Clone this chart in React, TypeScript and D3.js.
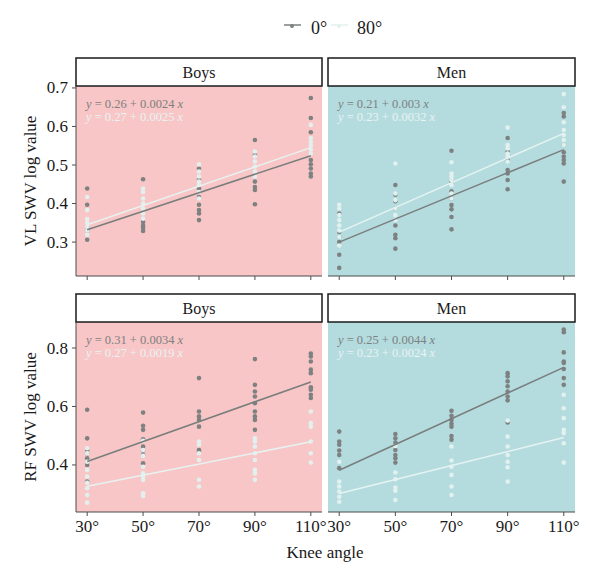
import React from 'react';
import * as d3 from 'd3';

// knee angles on the x axis
const angles = [30, 50, 70, 90, 110];
const angleTicks = ['30°', '50°', '70°', '90°', '110°'];
const hipAngles = ['0°', '80°'];

// SWV log values, one inner list per knee angle
const boysVL0 = [
  [0.439, 0.397, 0.339, 0.33, 0.306],
  [0.463, 0.352, 0.343, 0.337, 0.329],
  [0.49, 0.461, 0.439, 0.417, 0.397, 0.383, 0.374, 0.357],
  [0.565, 0.526, 0.457, 0.443, 0.435, 0.398],
  [0.674, 0.622, 0.585, 0.513, 0.502, 0.491, 0.478, 0.47],
];
const boysVL80 = [
  [0.417, 0.383, 0.36, 0.35, 0.34, 0.33, 0.319],
  [0.439, 0.43, 0.413, 0.4, 0.387, 0.374, 0.361],
  [0.502, 0.483, 0.47, 0.457, 0.448, 0.43, 0.413],
  [0.535, 0.522, 0.509, 0.496, 0.483, 0.47],
  [0.604, 0.57, 0.56, 0.55, 0.54, 0.53],
];
const menVL0 = [
  [0.374, 0.326, 0.313, 0.3, 0.267, 0.233],
  [0.448, 0.423, 0.406, 0.387, 0.343, 0.319, 0.31, 0.283],
  [0.537, 0.457, 0.432, 0.413, 0.396, 0.385, 0.365, 0.333],
  [0.57, 0.535, 0.513, 0.487, 0.478, 0.461, 0.437],
  [0.635, 0.626, 0.552, 0.533, 0.522, 0.513, 0.504, 0.457],
];
const menVL80 = [
  [0.397, 0.387, 0.37, 0.357, 0.343, 0.33, 0.313, 0.291],
  [0.504, 0.426, 0.409, 0.387, 0.37, 0.357],
  [0.507, 0.478, 0.47, 0.461, 0.448, 0.426, 0.413],
  [0.597, 0.552, 0.543, 0.53, 0.522, 0.509],
  [0.684, 0.65, 0.611, 0.591, 0.578, 0.565, 0.552],
];
const boysRF0 = [
  [0.589, 0.491, 0.451, 0.44, 0.423, 0.411, 0.4, 0.343],
  [0.579, 0.534, 0.52, 0.488, 0.463, 0.449, 0.434, 0.406],
  [0.697, 0.583, 0.566, 0.554, 0.531, 0.451, 0.446],
  [0.762, 0.674, 0.651, 0.634, 0.611, 0.583, 0.566, 0.554, 0.52],
  [0.781, 0.771, 0.754, 0.726, 0.714, 0.666, 0.657, 0.64, 0.629],
];
const boysRF80 = [
  [0.457, 0.44, 0.411, 0.383, 0.36, 0.339, 0.32, 0.297, 0.271],
  [0.483, 0.451, 0.431, 0.394, 0.371, 0.36, 0.349, 0.303, 0.294],
  [0.48, 0.469, 0.44, 0.417, 0.349, 0.326],
  [0.491, 0.48, 0.463, 0.44, 0.417, 0.383, 0.371, 0.349],
  [0.583, 0.543, 0.531, 0.48, 0.44, 0.408],
];
const menRF0 = [
  [0.514, 0.48, 0.469, 0.449, 0.434, 0.389],
  [0.506, 0.491, 0.477, 0.451, 0.434, 0.423, 0.408],
  [0.585, 0.568, 0.554, 0.541, 0.531, 0.499, 0.486],
  [0.714, 0.703, 0.686, 0.669, 0.651, 0.634, 0.621, 0.545],
  [0.863, 0.854, 0.785, 0.754, 0.749, 0.728, 0.697, 0.674],
];
const menRF80 = [
  [0.411, 0.343, 0.326, 0.309, 0.291, 0.274],
  [0.465, 0.374, 0.351, 0.323, 0.312, 0.28],
  [0.463, 0.415, 0.394, 0.366, 0.326, 0.297],
  [0.552, 0.497, 0.463, 0.434, 0.411, 0.392, 0.343],
  [0.64, 0.594, 0.56, 0.52, 0.509, 0.474, 0.408],
];

// fitted lines: [intercept, slope]
const boysVLFit = [[0.26, 0.0024], [0.27, 0.0025]];
const menVLFit = [[0.21, 0.003], [0.23, 0.0032]];
const boysRFFit = [[0.31, 0.0034], [0.27, 0.0019]];
const menRFFit = [[0.25, 0.0044], [0.23, 0.0024]];

const vlTicks = [0.3, 0.4, 0.5, 0.6, 0.7];
const rfTicks = [0.4, 0.6, 0.8];

const FONT = '"Liberation Serif", "DejaVu Serif", serif';
const darkCol = '#7e8181';
const lightCol = '#e2f0ef';
const bgCol = { Boys: '#f8c6c6', Men: '#b4dcde' };

const cols = [
  { name: 'Boys', x0: 76, x1: 322 },
  { name: 'Men', x0: 328, x1: 575 },
];
const rows = [
  { title: 'VL SWV log value', stripTop: 58, y0: 86, y1: 276, domain: [0.212, 0.705], ticks: vlTicks, xLabels: false,
    data: [[boysVL0, boysVL80, boysVLFit], [menVL0, menVL80, menVLFit]] },
  { title: 'RF SWV log value', stripTop: 294, y0: 322, y1: 512, domain: [0.239, 0.889], ticks: rfTicks, xLabels: true,
    data: [[boysRF0, boysRF80, boysRFFit], [menRF0, menRF80, menRFFit]] },
];

function Panel({ col, row, ci }: any) {
  const x = d3.scaleLinear().domain([26, 114]).range([col.x0, col.x1]);
  const y = d3.scaleLinear().domain(row.domain).range([row.y1, row.y0]);
  const [d0, d80, fit] = row.data[ci];
  const series = [d0, d80];
  const colors = [darkCol, lightCol];
  const ends = [angles[0], angles[angles.length - 1]];

  return (
    <g>
      <rect x={col.x0} y={row.y0} width={col.x1 - col.x0} height={row.y1 - row.y0} fill={(bgCol as any)[col.name]} />
      {series.map((s: number[][], si: number) => (
        <g key={si} fill={colors[si]}>
          {s.map((vals, ai) => vals.map((v, vi) => (
            <circle key={ai + '-' + vi} cx={x(angles[ai])} cy={y(v)} r={2.3} />
          )))}
        </g>
      ))}
      {fit.map((k: number[], si: number) => {
        const d = d3.line<number>().x(a => x(a)).y(a => y(k[0] + k[1] * a))(ends);
        return <path key={si} d={d || ''} stroke={si === 0 ? '#7a7d7d' : '#e6f3f2'} strokeWidth={1.5} fill="none" />;
      })}
      {fit.map((k: number[], si: number) => (
        <text key={'eq' + si} x={col.x0 + 10} y={row.y0 + 22 + si * 13} fontFamily={FONT} fontSize={12.5}
          fill={si === 0 ? '#7d8080' : '#e8f3f3'}>
          <tspan fontStyle="italic">y</tspan>{` = ${k[0]} + ${k[1]} `}<tspan fontStyle="italic">x</tspan>
        </text>
      ))}
      {/* strip */}
      <rect x={col.x0} y={row.stripTop} width={col.x1 - col.x0} height={row.y0 - row.stripTop} fill="#fff" stroke="#1a1a1a" strokeWidth={1.5} />
      <text x={(col.x0 + col.x1) / 2} y={row.stripTop + 20} textAnchor="middle" fontFamily={FONT} fontSize={16} fill="#1a1a1a">{col.name}</text>
      {/* axes */}
      <line x1={col.x0} x2={col.x1} y1={row.y1} y2={row.y1} stroke="#4d4d4d" strokeWidth={1} />
      {angles.map((a, i) => (
        <g key={a}>
          <line x1={x(a)} x2={x(a)} y1={row.y1} y2={row.y1 + 4} stroke="#4d4d4d" strokeWidth={1} />
          {row.xLabels && (
            <text x={x(a)} y={row.y1 + 20} textAnchor="middle" fontFamily={FONT} fontSize={17} fill="#1a1a1a">{angleTicks[i]}</text>
          )}
        </g>
      ))}
      {ci === 0 && (
        <g>
          <line x1={col.x0} x2={col.x0} y1={row.y0} y2={row.y1} stroke="#4d4d4d" strokeWidth={1} />
          {row.ticks.map((t: number) => (
            <g key={t}>
              <line x1={col.x0 - 4} x2={col.x0} y1={y(t)} y2={y(t)} stroke="#4d4d4d" strokeWidth={1} />
              <text x={col.x0 - 8} y={y(t) + 5.5} textAnchor="end" fontFamily={FONT} fontSize={17} fill="#1a1a1a">{d3.format('.1f')(t)}</text>
            </g>
          ))}
        </g>
      )}
    </g>
  );
}

export default function App() {
  return (
    <svg width={600} height={586} style={{ position: 'absolute', left: 0, top: 0, background: '#fff' }}>
      {/* legend */}
      <g>
        <line x1={284} x2={301} y1={25} y2={25} stroke={darkCol} strokeWidth={1.5} />
        <circle cx={292} cy={26} r={2} fill={darkCol} />
        <text x={311} y={34} fontFamily={FONT} fontSize={18} fill="#1a1a1a">{hipAngles[0]}</text>
        <line x1={331} x2={348} y1={25} y2={25} stroke={lightCol} strokeWidth={1.5} />
        <circle cx={339} cy={26} r={2} fill={lightCol} />
        <text x={357} y={34} fontFamily={FONT} fontSize={18} fill="#1a1a1a">{hipAngles[1]}</text>
      </g>
      {rows.map((row, ri) => (
        <g key={ri}>
          {cols.map((col, ci) => <Panel key={ci} col={col} row={row} ci={ci} />)}
          <text transform={`translate(36,${(row.y0 + row.y1) / 2}) rotate(-90)`} textAnchor="middle" fontFamily={FONT} fontSize={17} fill="#1a1a1a">{row.title}</text>
        </g>
      ))}
      <text x={325} y={558} textAnchor="middle" fontFamily={FONT} fontSize={17} fill="#1a1a1a">Knee angle</text>
    </svg>
  );
}
